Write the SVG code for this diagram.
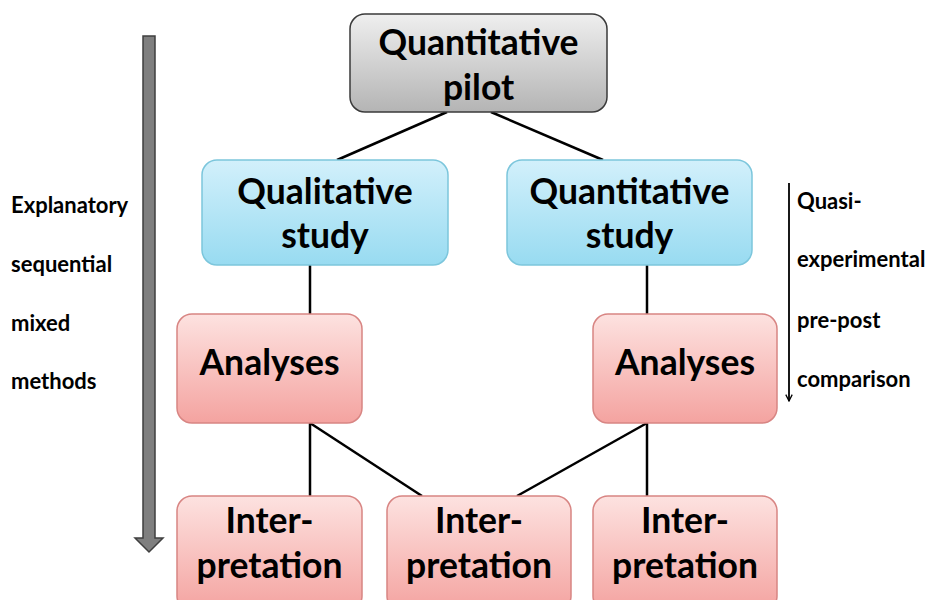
<svg xmlns="http://www.w3.org/2000/svg" width="933" height="600" viewBox="0 0 933 600">
<defs>
<linearGradient id="gGray" x1="0" y1="0" x2="0" y2="1"><stop offset="0" stop-color="#efefef"/><stop offset="1" stop-color="#b4b4b4"/></linearGradient>
<linearGradient id="gBlue" x1="0" y1="0" x2="0" y2="1"><stop offset="0" stop-color="#d2f0fb"/><stop offset="1" stop-color="#98dbf1"/></linearGradient>
<linearGradient id="gPink" x1="0" y1="0" x2="0" y2="1"><stop offset="0" stop-color="#fde2e0"/><stop offset="1" stop-color="#f4a3a0"/></linearGradient>
<marker id="ah" viewBox="0 0 10 10" refX="9" refY="5" markerWidth="8" markerHeight="8" orient="auto" markerUnits="userSpaceOnUse"><path d="M1,1 L9,5 L1,9" fill="none" stroke="#000" stroke-width="1.6"/></marker>
<style>
.gray{fill:url(#gGray);stroke:#3a3a3a;stroke-width:1.5}
.blue{fill:url(#gBlue);stroke:#7cc6dc;stroke-width:1.5}
.pink{fill:url(#gPink);stroke:#d88583;stroke-width:1.5}
.nt{font-family:Lato,"Liberation Sans",sans-serif;font-weight:bold;font-size:35.5px;fill:#000;text-anchor:middle}
.lt{font-family:Lato,"Liberation Sans",sans-serif;font-weight:bold;font-size:22px;fill:#000}
.ln{stroke:#000;stroke-width:2.5;fill:none}
</style>
</defs>
<rect width="933" height="600" fill="#fff"/>
<g id="connectors">
<line class="ln" x1="447" y1="112" x2="337" y2="160"/>
<line class="ln" x1="491" y1="112" x2="603" y2="160"/>
<line class="ln" x1="310" y1="265" x2="310" y2="314"/>
<line class="ln" x1="647" y1="265" x2="647" y2="314"/>
<line class="ln" x1="310" y1="423" x2="310" y2="496"/>
<line class="ln" x1="310" y1="423" x2="422" y2="496"/>
<line class="ln" x1="647" y1="423" x2="517" y2="496"/>
<line class="ln" x1="647" y1="423" x2="647" y2="496"/>
</g>
<g id="seq-arrow">
<path d="M143,36 H155 V538 H163 L149,552 L135,538 H143 Z" fill="#7f7f7f" stroke="#3f3f3f" stroke-width="1.5"/>
</g>
<g id="seq-label">
<text class="lt" x="11" y="213">Explanatory</text>
<text class="lt" x="11" y="272">sequential</text>
<text class="lt" x="11" y="331">mixed</text>
<text class="lt" x="11" y="389">methods</text>
</g>
<g id="quasi-arrow">
<line x1="789" y1="183" x2="789" y2="401" stroke="#000" stroke-width="1.8" marker-end="url(#ah)"/>
</g>
<g id="quasi-label">
<text class="lt" x="797" y="209">Quasi-</text>
<text class="lt" x="797" y="267">experimental</text>
<text class="lt" x="797" y="328">pre-post</text>
<text class="lt" x="797" y="387">comparison</text>
</g>
<g id="pilot">
<rect class="gray" x="350" y="14" width="257" height="98" rx="15"/>
<text class="nt" x="478.5" y="55">Quantitative</text>
<text class="nt" x="478.5" y="100">pilot</text>
</g>
<g id="qual-study">
<rect class="blue" x="202" y="160" width="246" height="105" rx="15"/>
<text class="nt" x="325" y="204">Qualitative</text>
<text class="nt" x="325" y="248">study</text>
</g>
<g id="quant-study">
<rect class="blue" x="507" y="160" width="245" height="105" rx="15"/>
<text class="nt" x="629.5" y="204">Quantitative</text>
<text class="nt" x="629.5" y="248">study</text>
</g>
<g id="analyses-left">
<rect class="pink" x="177" y="314" width="185" height="109" rx="15"/>
<text class="nt" x="269.5" y="375">Analyses</text>
</g>
<g id="analyses-right">
<rect class="pink" x="593" y="314" width="184" height="109" rx="15"/>
<text class="nt" x="685" y="375">Analyses</text>
</g>
<g id="interp-left">
<rect class="pink" x="177" y="496" width="185" height="115" rx="15"/>
<text class="nt" x="269.5" y="533">Inter-</text>
<text class="nt" x="269.5" y="578">pretation</text>
</g>
<g id="interp-mid">
<rect class="pink" x="387" y="496" width="184" height="115" rx="15"/>
<text class="nt" x="479" y="533">Inter-</text>
<text class="nt" x="479" y="578">pretation</text>
</g>
<g id="interp-right">
<rect class="pink" x="593" y="496" width="184" height="115" rx="15"/>
<text class="nt" x="685" y="533">Inter-</text>
<text class="nt" x="685" y="578">pretation</text>
</g>
</svg>
